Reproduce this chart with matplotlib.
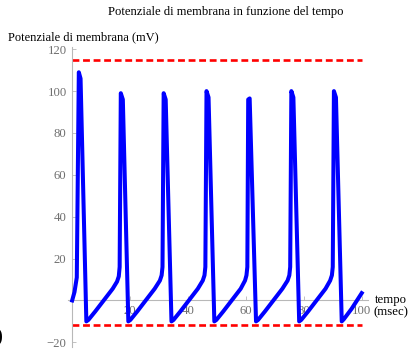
import matplotlib
matplotlib.use('Agg')
import matplotlib.pyplot as plt

# membrane potential trace (msec, mV)
tempo = [
	0, 0.8, 1.6, 2.3, 2.9, 4.9,
	5.6, 8.0, 11.0, 14.0, 15.5, 16.1, 16.4, 16.8, 17.5, 19.4,
	20.1, 22.5, 25.5, 28.5, 30.3, 30.9, 31.2, 31.6, 32.3, 34.3,
	35.0, 37.4, 40.4, 43.4, 45.1, 45.7, 46.0, 46.4, 47.1, 49.1,
	49.8, 52.2, 55.2, 58.2, 59.7, 60.2, 60.5, 60.8, 61.3, 63.5,
	64.2, 66.6, 69.6, 72.6, 74.4, 75.0, 75.3, 75.7, 76.4, 78.4,
	79.1, 81.5, 84.5, 87.5, 89.1, 89.7, 90.0, 90.4, 91.1, 93.1,
	93.8, 96.5, 100.0,
]
potenziale = [
	0, 4, 11, 109, 106, -10,
	-9.3, -5.2, 0.2, 5.6, 9.0, 11.5, 16, 99, 96, -10,
	-9.3, -5.2, 0.2, 5.6, 9.5, 12, 16, 99, 96, -10,
	-9.3, -5.2, 0.2, 5.6, 9.5, 12, 16, 100, 97, -10,
	-9.3, -5.2, 0.2, 5.6, 9.5, 12, 16, 96, 96.5, -10,
	-9.3, -5.2, 0.2, 5.6, 9.5, 12, 16, 100, 97, -10,
	-9.3, -5.2, 0.2, 5.6, 9.5, 12, 16, 100, 97, -10,
	-9.0, -4.0, 3.5,
]

# reversal potentials (dashed red lines)
soglie = [115, -11.5]
x_ticks = [20, 40, 60, 80, 100]
y_ticks = [-20, 20, 40, 60, 80, 100, 120]

plt.rcParams['font.family'] = ['Liberation Serif', 'DejaVu Serif']

fig = plt.figure(figsize=(4.12, 3.53), dpi=100)
ax = fig.add_axes([0.1646, 0.0184, 0.7274, 0.848])

ax.plot(tempo, potenziale, color='#0000ff', lw=2.9, solid_joinstyle='round', zorder=3)
for s in soglie:
	ax.plot([0, 100], [s, s], color='#ff0000', lw=1.9, ls=(0, (2.6, 1.4)), zorder=2)

ax.set_xlim(-1.5, 102)
ax.set_ylim(-22, 121)

for side in ['top', 'right']:
	ax.spines[side].set_visible(False)
for side in ['left', 'bottom']:
	ax.spines[side].set_position(('data', 0))
	ax.spines[side].set_color('#b8b8b8')
	ax.spines[side].set_linewidth(0.8)

ax.set_xticks(x_ticks)
ax.set_yticks(y_ticks)
ax.tick_params(direction='in', length=3, width=0.6, color='#b8b8b8',
	labelcolor='#707070', labelsize=9.2)
ax.tick_params(axis='y', pad=4)
ax.tick_params(axis='x', pad=3)

fig.text(8 / 412, 1 - 37 / 353, 'Potenziale di membrana (mV)', ha='left', va='center', fontsize=9)
fig.text(226 / 412, 1 - 12.5 / 353, 'Potenziale di membrana in funzione del tempo', ha='center', va='center', fontsize=9.1)
fig.text(391 / 412, 1 - 306.5 / 353, 'tempo\n(msec)', ha='center', va='center', fontsize=9.2,
	multialignment='center', linespacing=1.05)
fig.text(-0.004, 1 - 338 / 353, ')', ha='center', va='center', fontsize=15)

fig.savefig('out.png', dpi=100)
